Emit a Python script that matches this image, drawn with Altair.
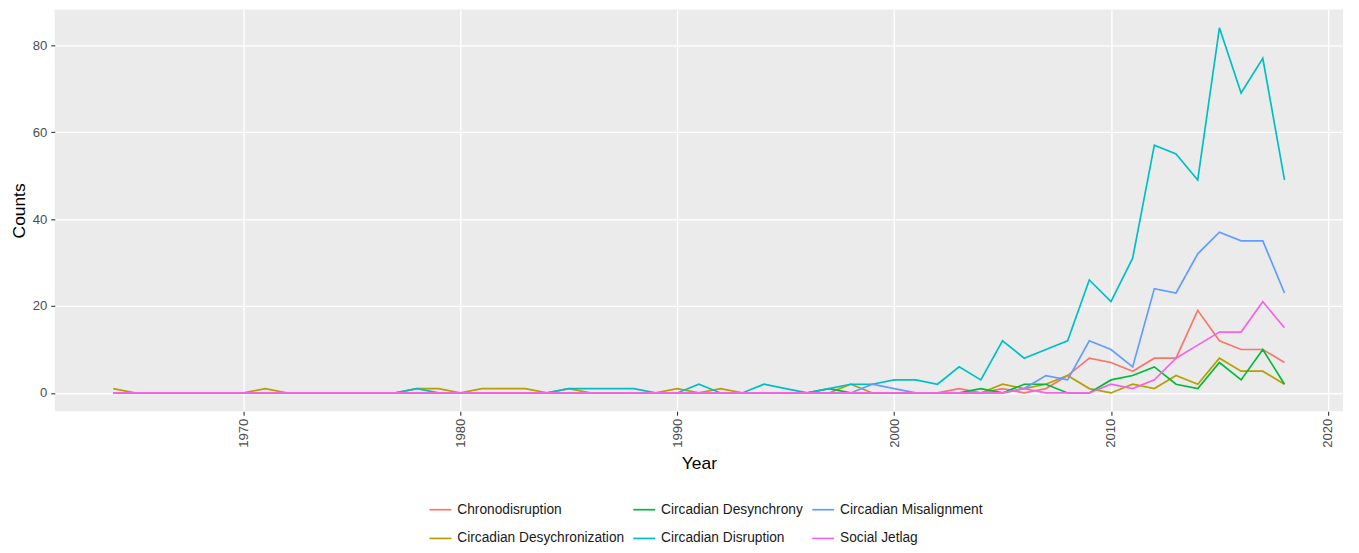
import altair as alt
import pandas as pd

years = list(range(1964, 2019))

# values per year 1964..2018 (grouped: 1964-69, 1970s, 1980s, 1990s, 2000s, 2010-18)
chronodisruption = (
    [0, 0, 0, 0, 0, 0]
    + [0, 0, 0, 0, 0, 0, 0, 0, 0, 0]
    + [0, 0, 0, 0, 0, 0, 0, 0, 0, 0]
    + [0, 0, 0, 0, 0, 0, 0, 0, 0, 0]
    + [0, 0, 0, 1, 0, 1, 0, 1, 4, 8]
    + [7, 5, 8, 8, 19, 12, 10, 10, 7]
)
desychronization = (
    [1, 0, 0, 0, 0, 0]
    + [0, 1, 0, 0, 0, 0, 0, 0, 1, 1]
    + [0, 1, 1, 1, 0, 1, 0, 0, 0, 0]
    + [1, 0, 1, 0, 0, 0, 0, 0, 2, 0]
    + [0, 0, 0, 0, 0, 2, 1, 2, 4, 1]
    + [0, 2, 1, 4, 2, 8, 5, 5, 2]
)
desynchrony = (
    [0, 0, 0, 0, 0, 0]
    + [0, 0, 0, 0, 0, 0, 0, 0, 0, 0]
    + [0, 0, 0, 0, 0, 0, 0, 0, 0, 0]
    + [0, 0, 0, 0, 0, 0, 0, 1, 0, 0]
    + [0, 0, 0, 0, 1, 0, 2, 2, 0, 0]
    + [3, 4, 6, 2, 1, 7, 3, 10, 2]
)
disruption = (
    [0, 0, 0, 0, 0, 0]
    + [0, 0, 0, 0, 0, 0, 0, 0, 1, 0]
    + [0, 0, 0, 0, 0, 1, 1, 1, 1, 0]
    + [0, 2, 0, 0, 2, 1, 0, 1, 2, 2]
    + [3, 3, 2, 6, 3, 12, 8, 10, 12, 26]
    + [21, 31, 57, 55, 49, 84, 69, 77, 49]
)
misalignment = (
    [0, 0, 0, 0, 0, 0]
    + [0, 0, 0, 0, 0, 0, 0, 0, 0, 0]
    + [0, 0, 0, 0, 0, 0, 0, 0, 0, 0]
    + [0, 0, 0, 0, 0, 0, 0, 0, 0, 2]
    + [1, 0, 0, 0, 0, 0, 1, 4, 3, 12]
    + [10, 6, 24, 23, 32, 37, 35, 35, 23]
)
social_jetlag = (
    [0, 0, 0, 0, 0, 0]
    + [0, 0, 0, 0, 0, 0, 0, 0, 0, 0]
    + [0, 0, 0, 0, 0, 0, 0, 0, 0, 0]
    + [0, 0, 0, 0, 0, 0, 0, 0, 0, 0]
    + [0, 0, 0, 0, 0, 0, 1, 0, 0, 0]
    + [2, 1, 3, 8, 11, 14, 14, 21, 15]
)

series = {
    "Chronodisruption": chronodisruption,
    "Circadian Desychronization": desychronization,
    "Circadian Desynchrony": desynchrony,
    "Circadian Disruption": disruption,
    "Circadian Misalignment": misalignment,
    "Social Jetlag": social_jetlag,
}
colors = {
    "Chronodisruption": "#F8766D",
    "Circadian Desychronization": "#B79F00",
    "Circadian Desynchrony": "#00BA38",
    "Circadian Disruption": "#00BFC4",
    "Circadian Misalignment": "#619CFF",
    "Social Jetlag": "#F564E3",
}
legend_order = list(series.keys())
x_ticks = [1970, 1980, 1990, 2000, 2010, 2020]
y_ticks = [0, 20, 40, 60, 80]

rows = []
for i, (name, vals) in enumerate(series.items()):
    for y, v in zip(years, vals):
        rows.append({"Year": y, "Counts": v, "Term": name, "ord": i})
df = pd.DataFrame(rows)

FONT = "Liberation Sans"

chart = (
    alt.Chart(df)
    .mark_line(strokeWidth=1.7)
    .encode(
        x=alt.X(
            "Year:Q",
            scale=alt.Scale(domain=[1961.3, 2020.7], nice=False, zero=False),
            axis=alt.Axis(values=x_ticks, format="d", labelAngle=270, title="Year",
                          titlePadding=7, labelPadding=3),
        ),
        y=alt.Y(
            "Counts:Q",
            scale=alt.Scale(domain=[-4.2, 88.2], nice=False, zero=False),
            axis=alt.Axis(values=y_ticks, title="Counts", titlePadding=4, labelPadding=4),
        ),
        color=alt.Color(
            "Term:N",
            scale=alt.Scale(domain=legend_order, range=[colors[k] for k in legend_order]),
            legend=alt.Legend(
                title=None,
                orient="none",
                legendX=376,
                legendY=491,
                columns=3,
                symbolType="stroke",
                symbolSize=484,
                symbolStrokeWidth=1.7,
                labelFontSize=13.8,
                labelFont=FONT,
                labelColor="#1A1A1A",
                labelOffset=5,
                columnPadding=5,
                rowPadding=10,
                labelLimit=400,
            ),
        ),
        order=alt.Order("ord:Q"),
    )
    .properties(
        width=1296,
        height=404,
        autosize=alt.AutoSizeParams(type="none"),
        padding={"left": 47, "top": 0, "right": 8, "bottom": 133},
    )
    .configure_view(fill="#EBEBEB", stroke=None)
    .configure_axis(
        domain=False,
        grid=True,
        gridColor="#FFFFFF",
        gridWidth=1.4,
        tickColor="#333333",
        tickSize=4,
        tickWidth=1.1,
        labelColor="#4D4D4D",
        labelFontSize=13.2,
        labelFont=FONT,
        titleFont=FONT,
        titleFontSize=17.5,
        titleFontWeight="normal",
        titleColor="#000000",
    )
)

chart.save("out.html", embed_options={"renderer": "svg", "actions": False})
